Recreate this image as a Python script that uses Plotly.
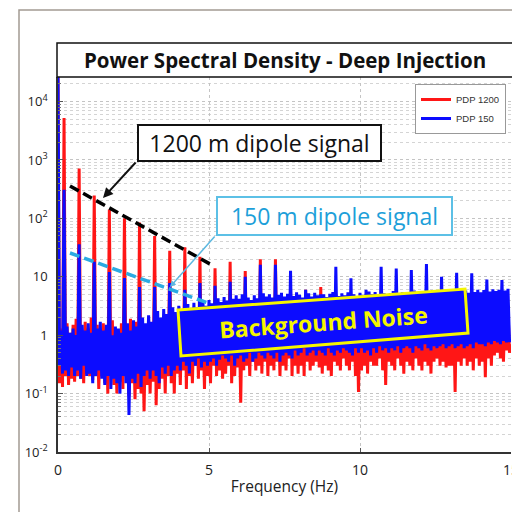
import plotly.graph_objects as go

# ---------------- data ----------------
# sampling grid: 0.00 .. 15.00 Hz in 0.05 Hz steps (301 samples)
freq_hz = [round(i * 0.05, 2) for i in range(301)]

# PDP 1200 spectrum, one row per 0.5 Hz
psd_pdp1200 = [
    30000, 0.15, 1.3, 0.13, 5200, 0.2, 1.6, 0.14, 1.1, 0.18,
    1.5, 0.16, 1.9, 0.2, 710, 0.18, 1.2, 0.15, 1.7, 0.22,
    1.3, 0.2, 2.0, 0.17, 245, 0.25, 1.5, 0.12, 1.2, 0.2,
    1.6, 0.15, 1.1, 0.1, 142, 0.22, 1.8, 0.14, 1.3, 0.1,
    1.2, 0.16, 1.6, 0.12, 100, 0.2, 1.4, 0.09, 1.9, 0.15,
    1.3, 0.08, 1.7, 0.12, 85, 0.1, 1.2, 0.05, 1.5, 0.14,
    2.0, 0.1, 1.3, 0.16, 50, 0.063, 1.6, 0.12, 1.1, 0.18,
    1.8, 0.1, 2.2, 0.2, 28, 0.15, 1.4, 0.1, 1.9, 0.22,
    1.5, 0.14, 2.1, 0.25, 32, 0.12, 1.7, 0.2, 2.3, 0.15,
    1.6, 0.3, 2.0, 0.18, 22, 0.25, 1.8, 0.12, 2.4, 0.2,
    1.9, 0.15, 2.5, 0.3, 14, 0.2, 1.7, 0.25, 2.2, 0.18,
    2.6, 0.22, 1.8, 0.3, 18, 0.15, 2.3, 0.2, 1.9, 0.28,
    2.1, 0.07, 2.7, 0.25, 12.6, 0.3, 1.8, 0.2, 2.4, 0.35,
    2.0, 0.25, 2.6, 0.3, 20, 0.22, 1.9, 0.35, 2.8, 0.2,
    2.3, 0.3, 1.9, 0.25, 20, 0.35, 2.5, 0.2, 2.1, 0.3,
    2.8, 0.25, 2.2, 0.4, 6, 0.2, 2.6, 0.3, 1.9, 0.22,
    2.4, 0.3, 2.9, 0.2, 6, 0.35, 2.1, 0.25, 2.7, 0.3,
    2.2, 0.35, 2.6, 0.28, 6.7, 0.22, 2.4, 0.3, 3.0, 0.25,
    2.5, 0.2, 2.1, 0.35, 5, 0.3, 2.8, 0.25, 2.3, 0.4,
    2.7, 0.3, 2.2, 0.25, 4, 0.35, 2.5, 0.2, 2.9, 0.107,
    2.3, 0.25, 2.8, 0.3, 4, 0.22, 2.4, 0.35, 2.1, 0.3,
    2.6, 0.3, 2.2, 0.4, 4.5, 0.25, 2.9, 0.14, 2.3, 0.35,
    2.5, 0.3, 2.7, 0.25, 5, 0.4, 2.2, 0.3, 2.8, 0.22,
    2.4, 0.35, 2.9, 0.3, 4, 0.25, 2.5, 0.4, 2.2, 0.3,
    2.7, 0.25, 2.3, 0.35, 5, 0.3, 2.6, 0.22, 2.9, 0.35,
    2.2, 0.4, 2.8, 0.3, 4, 0.35, 2.4, 0.28, 2.6, 0.3,
    2.5, 0.3, 2.1, 0.107, 4.5, 0.35, 2.7, 0.3, 2.3, 0.4,
    2.9, 0.3, 2.4, 0.35, 4, 0.25, 2.6, 0.4, 2.2, 0.3,
    2.6, 0.35, 2.8, 0.19, 3.5, 0.4, 2.3, 0.3, 2.7, 0.45,
    2.4, 0.5, 2.9, 0.4, 4, 0.35, 2.5, 0.55, 2.8, 0.5,
    0.7,
]

# PDP 150 spectrum, one row per 0.5 Hz
psd_pdp150 = [
    30000, 0.3, 1.2, 0.22, 310, 0.25, 1.4, 0.2, 1.1, 0.28,
    1.3, 0.2, 1.0, 0.25, 36, 0.18, 1.5, 0.3, 1.2, 0.2,
    1.6, 0.22, 1.1, 0.15, 18, 0.2, 1.3, 0.25, 1.7, 0.18,
    1.2, 0.14, 1.5, 0.2, 12, 0.12, 1.0, 0.18, 1.4, 0.15,
    1.3, 0.1, 1.1, 0.2, 9.5, 0.15, 1.6, 0.043, 1.2, 0.18,
    1.8, 0.15, 1.4, 0.22, 6.7, 0.13, 2.0, 0.2, 1.6, 0.25,
    2.2, 0.18, 1.7, 0.25, 6.7, 0.2, 2.6, 0.15, 2.0, 0.28,
    2.8, 0.22, 2.3, 0.3, 7.8, 0.2, 3.0, 0.25, 2.5, 0.3,
    3.2, 0.25, 2.7, 0.35, 6, 0.3, 3.4, 0.22, 2.9, 0.35,
    3.6, 0.3, 3.0, 0.4, 7.8, 0.28, 3.8, 0.35, 3.2, 0.3,
    4.0, 0.35, 3.5, 0.4, 7, 0.3, 4.3, 0.38, 3.7, 0.45,
    4.5, 0.4, 3.9, 0.35, 8.2, 0.45, 4.2, 0.3, 4.8, 0.4,
    4.2, 0.45, 5.0, 0.35, 10, 0.4, 4.4, 0.5, 4.0, 0.35,
    4.8, 0.4, 4.3, 0.5, 16, 0.45, 5.2, 0.4, 4.6, 0.5,
    5.0, 0.45, 4.4, 0.4, 16, 0.5, 4.9, 0.35, 5.3, 0.45,
    4.6, 0.5, 5.1, 0.45, 12.6, 0.4, 4.7, 0.55, 5.4, 0.45,
    4.9, 0.5, 4.4, 0.6, 6, 0.45, 5.2, 0.5, 4.6, 0.55,
    5.3, 0.45, 4.8, 0.55, 5, 0.5, 5.0, 0.45, 4.5, 0.6,
    5.1, 0.5, 5.5, 0.45, 14.8, 0.55, 4.7, 0.5, 5.2, 0.6,
    4.8, 0.55, 5.4, 0.5, 9.4, 0.45, 5.0, 0.6, 4.6, 0.5,
    5.3, 0.6, 4.9, 0.5, 6, 0.55, 5.6, 0.45, 5.0, 0.6,
    5.5, 0.5, 5.0, 0.65, 14.8, 0.55, 5.2, 0.6, 4.8, 0.5,
    5.2, 0.6, 5.7, 0.55, 13.8, 0.65, 5.0, 0.5, 5.4, 0.6,
    5.0, 0.65, 5.5, 0.6, 13, 0.5, 5.8, 0.65, 5.1, 0.6,
    5.6, 0.55, 5.2, 0.7, 16.5, 0.6, 5.4, 0.55, 5.9, 0.65,
    5.1, 0.6, 5.6, 0.65, 10, 0.7, 5.3, 0.6, 5.0, 0.65,
    5.5, 0.7, 5.1, 0.6, 11.7, 0.65, 5.7, 0.7, 5.2, 0.6,
    5.8, 0.65, 5.3, 0.7, 11.5, 0.6, 5.5, 0.75, 6.0, 0.7,
    5.4, 0.7, 5.9, 0.65, 9, 0.75, 5.6, 0.7, 6.1, 0.8,
    5.7, 0.75, 6.0, 0.7, 8.8, 0.8, 5.8, 0.75, 6.2, 0.8,
    0.8,
]

series_names = ["PDP 1200", "PDP 150"]
x_ticks = [0, 5, 10, 15]
y_tickvals = [0.01, 0.1, 1, 10, 100, 1000, 10000]
y_ticktext = ["10<sup>-2</sup>", "10<sup>-1</sup>", "1", "10",
              "10<sup>2</sup>", "10<sup>3</sup>", "10<sup>4</sup>"]

# ---------------- figure ----------------
RED = "#ff1616"
BLUE = "#0c0cff"
CYAN = "#1d9fd9"
CYAN_LINE = "#2aaae2"
YELLOW = "#f5f500"
FONT = "Open Sans"

ML, MT, MB, MR = 58, 77, 60, 1
W = H = 512
PW = W - ML - MR
PH = H - MT - MB


def px(xp):
    return (xp - ML) / PW


def py(yp):
    return (H - MB - yp) / PH


fig = go.Figure()
fig.add_trace(go.Scatter(x=freq_hz, y=psd_pdp1200, mode="lines", name=series_names[0],
                         line=dict(color=RED, width=3)))
fig.add_trace(go.Scatter(x=freq_hz, y=psd_pdp150, mode="lines", name=series_names[1],
                         line=dict(color=BLUE, width=3)))

shapes = []
# outer frame
shapes.append(dict(type="path", xref="paper", yref="paper",
                   path=f"M {px(19)} {py(530)} L {px(19)} {py(10)} L {px(530)} {py(10)}",
                   line=dict(color="#a29a92", width=1.5)))
# title box
shapes.append(dict(type="rect", xref="paper", yref="paper",
                   x0=px(57), x1=px(530), y0=py(77), y1=py(43),
                   line=dict(color="#111111", width=1.5), fillcolor="rgba(0,0,0,0)",
                   layer="above"))
# black dashed trend line
shapes.append(dict(type="line", xref="paper", yref="paper",
                   x0=px(70), y0=py(186), x1=px(210), y1=py(264),
                   line=dict(color="black", width=3.5, dash="10px,5px")))
# cyan dashed trend line
shapes.append(dict(type="line", xref="paper", yref="paper",
                   x0=px(70), y0=py(253), x1=px(208), y1=py(303),
                   line=dict(color=CYAN_LINE, width=3.5, dash="10px,5px")))
# yellow rotated box for background noise
shapes.append(dict(type="path", xref="paper", yref="paper",
                   path=(f"M {px(178)} {py(310)} L {px(465)} {py(289)} "
                         f"L {px(468)} {py(333)} L {px(181)} {py(356)} Z"),
                   fillcolor=BLUE, line=dict(color=YELLOW, width=3)))

annotations = [
    dict(text="<b>Power Spectral Density - Deep Injection</b>", xref="paper", yref="paper",
         x=px(285), y=py(60), xanchor="center", yanchor="middle", showarrow=False,
         font=dict(family=FONT, size=20.5, color="#111111")),
    dict(text="1200 m dipole signal", xref="paper", yref="paper",
         x=px(259.5), y=py(142.5), xanchor="center", yanchor="middle", showarrow=False,
         font=dict(family=FONT, size=23, color="#111111"),
         bgcolor="white", bordercolor="#111111", borderwidth=2, borderpad=1, width=239),
    dict(text="", xref="paper", yref="paper", x=px(103), y=py(198),
         ax=34, ay=-37, showarrow=True, arrowhead=2, arrowsize=1,
         arrowwidth=2, arrowcolor="#111111"),
    dict(text="150 m dipole signal", xref="paper", yref="paper",
         x=px(334), y=py(216), xanchor="center", yanchor="middle", showarrow=False,
         font=dict(family=FONT, size=23, color=CYAN),
         bgcolor="white", bordercolor="#5cc0e6", borderwidth=2, borderpad=2, width=229),
    dict(text="", xref="paper", yref="paper", x=px(170), y=py(287),
         ax=46, ay=-52, showarrow=True, arrowhead=2, arrowsize=0.8,
         arrowwidth=1.5, arrowcolor="#5cb8e0"),
    dict(text="<b>Background Noise</b>", xref="paper", yref="paper",
         x=px(323), y=py(322), xanchor="center", yanchor="middle", showarrow=False,
         textangle=-4.2, font=dict(family=FONT, size=23, color=YELLOW)),
]

fig.update_layout(
    width=W, height=H, autosize=False,
    margin=dict(l=ML, r=MR, t=MT, b=MB, autoexpand=False),
    paper_bgcolor="white", plot_bgcolor="white",
    shapes=shapes, annotations=annotations,
    showlegend=True,
    legend=dict(x=px(415), y=py(84), xanchor="left", yanchor="top",
                bgcolor="white", bordercolor="#999999", borderwidth=1,
                font=dict(family="Liberation Sans", size=9.5, color="#333333"),
                tracegroupgap=0),
    xaxis=dict(range=[0, 15], tickvals=x_ticks, ticks="inside", ticklen=4,
               tickcolor="#555555", showline=True, linecolor="#333333", linewidth=1.5,
               showgrid=True, gridcolor="#c4c4c4", griddash="dot", zeroline=False,
               automargin=False,
               tickfont=dict(family=FONT, size=14, color="#222222"),
               ticklabelstandoff=4, ticklabeloverflow="allow",
               title=dict(text="Frequency (Hz)", standoff=4,
                          font=dict(family=FONT, size=15.5, color="#222222"))),
    yaxis=dict(type="log", range=[-2.0, 4.42], tickmode="array",
               tickvals=y_tickvals, ticktext=y_ticktext,
               ticks="inside", ticklen=5, tickcolor="#555555",
               showline=True, linecolor="#333333", linewidth=1.5,
               showgrid=True, gridcolor="#c4c4c4", griddash="dot", zeroline=False,
               automargin=False,
               tickfont=dict(family=FONT, size=13, color="#222222"),
               ticklabelstandoff=6,
               minor=dict(dtick="D1", ticks="inside", ticklen=3, tickcolor="#777777",
                          showgrid=True, gridcolor="#d4d4d4", griddash="dot")),
)

fig.write_html("out.html",
               config={"displayModeBar": False},
               post_script="document.body.style.margin='0px';"
                           "document.body.style.overflow='hidden';")
